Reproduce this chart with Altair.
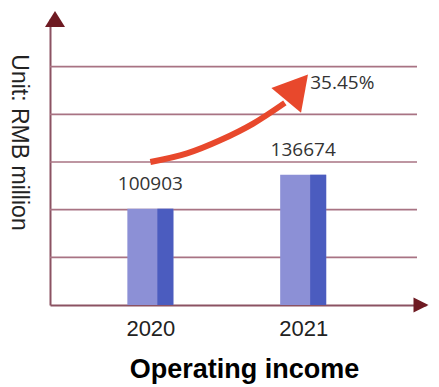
import altair as alt
import pandas as pd

# ---- data ----
years = [2020, 2021]
income = [100903, 136674]
income_labels = ["100903", "136674"]
growth_label = "35.45%"

grid_values = [50000, 100000, 150000, 200000, 250000]

# growth arrow annotation path (data units)
arrow_x = [2020.0, 2020.24, 2020.46, 2020.67, 2020.88]
arrow_y = [150000, 159000, 173000, 190000, 212000]
arrow_head_x = [2020.95]
arrow_head_y = [226300]
arrow_tip_x = [2021.02]
arrow_tip_y = [238100]

x_domain = [2019.376, 2021.771]
y_domain = [0, 300000]

AXIS_COLOR = "#8b5262"
GRID_COLOR = "#a87383"
LIGHT = "#8c90d6"
DARK = "#4b5cbf"
RED = "#e8482c"
HEAD = "#6e1a22"

bars = pd.DataFrame({"year": years, "value": income, "label": income_labels})
grid = pd.DataFrame({"g": grid_values})
arrow = pd.DataFrame({"ax": arrow_x, "ay": arrow_y})
head = pd.DataFrame({"hx": arrow_head_x, "hy": arrow_head_y})
tip = pd.DataFrame({"tx": arrow_tip_x, "ty": arrow_tip_y, "t": [growth_label]})
yhead = pd.DataFrame({"x": [x_domain[0]], "y": [y_domain[1]]})
xhead = pd.DataFrame({"x": [x_domain[1]], "y": [y_domain[0]]})

xscale = alt.Scale(domain=x_domain, nice=False, zero=False)
yscale = alt.Scale(domain=y_domain, nice=False, zero=True)

x_axis = alt.Axis(
    values=years, format="d", ticks=False, grid=False,
    labelFont="Liberation Sans", labelFontSize=22, labelColor="#222222",
    labelPadding=13,
    domainColor=AXIS_COLOR, domainWidth=2,
    title="Operating income", titleFont="Liberation Sans", titleFontSize=27,
    titleFontWeight="bold", titleColor="#000000",
    titleX=194, titleY=72, titleBaseline="alphabetic", titleAlign="center",
)
y_axis = alt.Axis(
    labels=False, ticks=False, grid=False,
    domainColor=AXIS_COLOR, domainWidth=2,
    title="Unit: RMB million", titleAngle=90, titleFont="Liberation Sans",
    titleFontSize=23, titleFontWeight="normal", titleColor="#222222",
    titleX=-32, titleY=123, titleBaseline="middle", titleAlign="center",
)

base_bar = alt.Chart(bars)

grid_layer = alt.Chart(grid).mark_rule(color=GRID_COLOR, strokeWidth=1.6).encode(
    y=alt.Y("g:Q", scale=yscale, axis=y_axis),
    x=alt.value(0),
    x2=alt.value(367),
)

light = base_bar.mark_bar(size=46, color=LIGHT).encode(
    x=alt.X("year:Q", scale=xscale, axis=x_axis),
    y=alt.Y("value:Q", scale=yscale),
)
dark = base_bar.mark_bar(size=16, color=DARK, xOffset=15).encode(
    x=alt.X("year:Q", scale=xscale),
    y=alt.Y("value:Q", scale=yscale),
)
labels = base_bar.mark_text(
    font="Open Sans", fontSize=19, color="#333333", dy=-25, baseline="middle"
).encode(
    x=alt.X("year:Q", scale=xscale),
    y=alt.Y("value:Q", scale=yscale),
    text="label:N",
)

shaft = alt.Chart(arrow).mark_line(
    color=RED, strokeWidth=6, interpolate="monotone", strokeCap="butt"
).encode(
    x=alt.X("ax:Q", scale=xscale),
    y=alt.Y("ay:Q", scale=yscale),
)
arrow_head = alt.Chart(head).mark_point(
    shape="M0,-1L1,0.75L-1,0.75Z", size=1500, filled=True, opacity=1,
    color=RED, angle=40, strokeWidth=0,
).encode(
    x=alt.X("hx:Q", scale=xscale),
    y=alt.Y("hy:Q", scale=yscale),
)
tip_text = alt.Chart(tip).mark_text(
    font="Open Sans", fontSize=19, color="#333333", align="left",
    baseline="middle", dx=4, dy=5,
).encode(
    x=alt.X("tx:Q", scale=xscale),
    y=alt.Y("ty:Q", scale=yscale),
    text="t:N",
)

y_arrow = alt.Chart(yhead).mark_point(
    shape="M-1,0.8L0,-0.8L1,0.8Z", size=400, filled=True, opacity=1,
    color=HEAD, strokeWidth=0,
).encode(x=alt.X("x:Q", scale=xscale), y=alt.Y("y:Q", scale=yscale))
x_arrow = alt.Chart(xhead).mark_point(
    shape="M-1,-1L1,0L-1,1Z", size=225, filled=True, opacity=1,
    color=HEAD, strokeWidth=0,
).encode(x=alt.X("x:Q", scale=xscale), y=alt.Y("y:Q", scale=yscale))

chart = alt.layer(
    grid_layer, light, dark, labels, shaft, arrow_head, tip_text, y_arrow, x_arrow
).properties(
    width=376, height=286,
    autosize=alt.AutoSizeParams(type="none"),
    padding={"left": 50, "top": 19, "right": 13, "bottom": 82},
    background="white",
).configure_view(stroke=None)

chart.save("out.html", embed_options={"renderer": "svg", "actions": False})
